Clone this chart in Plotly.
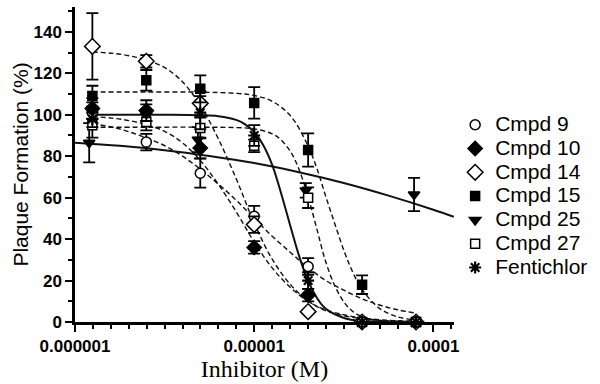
import plotly.graph_objects as go

# ---------------- data ----------------
conc = [1.25e-6, 2.5e-6, 5e-6, 1e-5, 2e-5, 4e-5, 8e-5]
conc_25 = [1.2e-6, 4.85e-6, 1.94e-5, 7.8e-5]

cmpd9 = [101, 86.8, 71.8, 51, 26.8, 0, 0]
cmpd9_err = [5, 4, 7, 5, 4, 0, 0]
cmpd10 = [103, 102, 84, 36, 13, 0, 0]
cmpd10_err = [5, 5, 5, 3, 3, 0, 0]
cmpd14 = [133, 125.8, 105.5, 47, 5, 0, 0]
cmpd14_err = [16, 3, 6, 4, 0, 0, 0]
cmpd15 = [109, 116.6, 112.5, 105.7, 83, 18, 0]
cmpd15_err = [5, 5, 6.5, 7.6, 8, 4.5, 0]
cmpd27 = [95, 96.5, 93.6, 85, 60, 0, 0]
cmpd27_err = [6, 4, 5, 3, 5, 0, 0]
fenti = [98, 101, 101, 90, 20, 0, 0]
fenti_err = [4, 4, 8, 5, 4, 0, 0]
cmpd25 = [86.5, 88, 63.5, 61.5]
cmpd25_err = [9.5, 6, 3.5, 8]

# fitted curves
fit_x = [1.25e-6, 1.6e-6, 2e-6, 2.5e-6, 3.2e-6, 4e-6, 5e-6, 6.3e-6, 8e-6, 1e-5,
         1.26e-5, 1.6e-5, 2e-5, 2.5e-5, 3.2e-5, 4e-5, 5e-5, 6.3e-5, 8e-5]
fit9 = [95.7, 94.1, 91.8, 88.8, 84.9, 79.9, 73.8, 66.6, 58.5, 50.0,
        41.4, 33.4, 26.2, 20.1, 15.1, 11.2, 8.2, 5.9, 4.3]
fit10 = [99.1, 98.4, 97.2, 95.2, 91.8, 86.3, 78.0, 66.5, 52.7, 38.6,
         26.1, 16.5, 10.0, 5.9, 3.4, 1.9, 1.1, 0.6, 0.35]
fit14 = [130.3, 129.7, 128.5, 126.4, 122.5, 115.7, 104.6, 88.5, 68.4, 47.8,
         30.3, 17.9, 10.1, 5.5, 2.9, 1.6, 0.8, 0.4, 0.2]

fit15_x = [1.25e-6, 2.5e-6, 5e-6, 8e-6, 1e-5, 1.26e-5, 1.6e-5, 2e-5, 2.24e-5, 2.5e-5,
           2.82e-5, 3.2e-5, 3.55e-5, 4e-5, 5e-5, 6.3e-5, 8e-5]
fit15 = [111, 111, 110.9, 110.3, 109.3, 106.5, 99.3, 84.9, 74.0, 61.0,
         47.3, 33.4, 24.0, 15.7, 6.6, 2.5, 0.9]

fit27_x = [1.25e-6, 2.5e-6, 5e-6, 8e-6, 1e-5, 1.26e-5, 1.41e-5, 1.6e-5, 1.78e-5, 2e-5,
           2.24e-5, 2.5e-5, 2.82e-5, 3.2e-5, 3.55e-5, 4e-5, 5e-5, 8e-5]
fit27 = [94, 94, 94, 93.8, 93.2, 90.8, 87.9, 82.0, 73.6, 60.3,
         44.7, 29.4, 17.4, 9.1, 5.1, 2.55, 0.7, 0.05]

fitF_x = [1.25e-6, 2e-6, 3.2e-6, 5e-6, 6.3e-6, 8e-6, 8.9e-6, 1e-5, 1.12e-5, 1.26e-5,
          1.41e-5, 1.6e-5, 1.78e-5, 2e-5, 2.24e-5, 2.5e-5, 3.2e-5, 4e-5, 5e-5, 8e-5]
fitF = [100, 100, 100, 99.8, 99.3, 97.4, 95.4, 91.7, 85.5, 75.8,
        62.4, 45.6, 31.9, 19.7, 11.6, 6.5, 1.8, 0.5, 0.2, 0.0]

fit25_x = [1e-6, 1.78e-6, 3.16e-6, 5.62e-6, 1e-5, 1.78e-5, 3.16e-5, 5.62e-5, 1e-4, 1.3e-4]
fit25 = [86.5, 85.0, 82.9, 80.1, 76.7, 72.3, 67.1, 61.0, 54.2, 50.8]

x_tickvals = [1e-6, 1e-5, 1e-4]
x_ticktext = ["0.000001", "0.00001", "0.0001"]
minor_ticks = [10 ** (-6 + k / 10) for k in range(1, 22) if k % 10]

# ---------------- figure ----------------
fig = go.Figure()

DASH = dict(color="#111", width=1.4, dash="5px,3px")
SOLID = dict(color="#111", width=2)

for x, y, ln in [(fit_x, fit9, DASH), (fit_x, fit10, DASH), (fit_x, fit14, DASH),
                 (fit15_x, fit15, DASH), (fit27_x, fit27, DASH),
                 (fitF_x, fitF, SOLID), (fit25_x, fit25, SOLID)]:
    fig.add_trace(go.Scatter(x=x, y=y, mode="lines", line=dict(shape="spline", **ln),
                             showlegend=False, hoverinfo="skip", cliponaxis=False))

def pts(name, x, y, err, symbol, size, fill, lw=1.5):
    fig.add_trace(go.Scatter(
        x=x, y=y, mode="markers", name=f'<span style="font-size:21px">{name}</span>',
        cliponaxis=False,
        marker=dict(symbol=symbol, size=size, color=fill,
                    line=dict(color="black", width=lw)),
        error_y=dict(type="data", array=err, color="black", thickness=1.8, width=6),
    ))

pts("Cmpd 9", conc, cmpd9, cmpd9_err, "circle", 10, "white")
pts("Cmpd 10", conc, cmpd10, cmpd10_err, "diamond", 11, "black")
pts("Cmpd 14", conc, cmpd14, cmpd14_err, "diamond", 12, "white")
pts("Cmpd 15", conc, cmpd15, cmpd15_err, "square", 9, "black")
pts("Cmpd 25", conc_25, cmpd25, cmpd25_err, "triangle-down", 10, "black")
pts("Cmpd 27", conc, cmpd27, cmpd27_err, "square", 9, "white")
pts("Fentichlor", conc, fenti, fenti_err, "asterisk-open", 10, "black", lw=2.2)

fig.update_layout(
    width=600, height=384,
    margin=dict(l=75, r=142, t=7, b=62),
    paper_bgcolor="white", plot_bgcolor="white",
    font=dict(family="Liberation Sans, Arial, sans-serif", color="black"),
    legend=dict(x=1.003, y=0.68, xanchor="left", yanchor="top",
                font=dict(size=16, family="Liberation Sans, Arial, sans-serif"),
                bgcolor="rgba(0,0,0,0)", itemsizing="trace"),
    xaxis=dict(
        type="log", range=[-6, -3.885], automargin=False,
        showline=True, linewidth=2.5, linecolor="black",
        showgrid=False, zeroline=False,
        ticks="outside", ticklen=7, tickwidth=2, tickcolor="black",
        tickvals=x_tickvals, ticktext=x_ticktext,
        tickfont=dict(size=17, weight="bold", family="Liberation Sans, Arial"),
        minor=dict(tickvals=minor_ticks, ticks="outside", ticklen=4,
                   tickwidth=1.5, tickcolor="black", showgrid=False),
        title=dict(text="Inhibitor (M)", standoff=0,
                   font=dict(size=24, family="Liberation Serif, Times New Roman, serif")),
    ),
    yaxis=dict(
        range=[0, 152], tick0=0, dtick=20, automargin=False,
        showline=True, linewidth=2.5, linecolor="black",
        showgrid=False, zeroline=False,
        ticks="outside", ticklen=7, tickwidth=2, tickcolor="black",
        tickfont=dict(size=17, weight="bold", family="Liberation Sans, Arial"),
        minor=dict(dtick=10, ticks="outside", ticklen=4, tickwidth=1.5,
                   tickcolor="black", showgrid=False),
        title=dict(text="Plaque Formation (%)", standoff=0,
                   font=dict(size=21, family="Liberation Sans, Arial")),
    ),
)

fig.write_html(
    "out.html", config={"displayModeBar": False, "responsive": False},
    post_script="document.body.style.margin='0';document.body.style.padding='0';"
                "document.body.style.overflow='hidden';"
                "document.documentElement.style.overflow='hidden';")
